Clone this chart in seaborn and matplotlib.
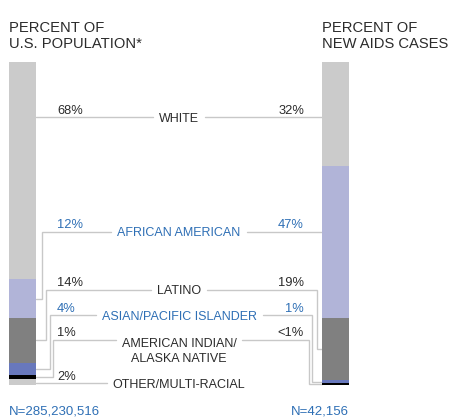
import matplotlib
matplotlib.use("Agg")
import matplotlib.pyplot as plt
import numpy as np
import pandas as pd
import seaborn as sns

# data
groups = [
    "WHITE",
    "AFRICAN AMERICAN",
    "LATINO",
    "ASIAN/PACIFIC ISLANDER",
    "AMERICAN INDIAN/\nALASKA NATIVE",
    "OTHER/MULTI-RACIAL",
]
pop_pct = [68, 12, 14, 4, 1, 2]
aids_pct = [32, 47, 19, 1, 0.5, 0]
pop_labels = ["68%", "12%", "14%", "4%", "1%", "2%"]
aids_labels = ["32%", "47%", "19%", "1%", "<1%", None]
bar_titles = ["PERCENT OF\nU.S. POPULATION*", "PERCENT OF\nNEW AIDS CASES"]
totals = ["N=285,230,516", "N=42,156"]

bar_colors = ["#cbcbcb", "#b1b4d8", "#808080", "#6878bc", "#000000", "#cbcbcb"]
label_colors = ["#2b2b2b", "#2e6fb5", "#2b2b2b", "#2e6fb5", "#2b2b2b", "#2b2b2b"]
line_color = "#c8c8c8"

sns.set_style("white")
plt.rcParams["font.family"] = ["Liberation Sans", "DejaVu Sans"]

# build stacked table (each bar normalised to its own total)
rows = []
for key, vals in (("pop", pop_pct), ("aids", aids_pct)):
    share = np.array(vals, dtype=float) / sum(vals) * 100
    cum = np.cumsum(share)
    for g, s, c in zip(groups, share, cum):
        rows.append({"bar": key, "group": g, "share": s, "end": c, "start": c - s})
df = pd.DataFrame(rows)

# pixel layout helpers (figure is 451x418 px, axes fill it)
PX_PER_X = 312.5
def xd(px):
    return (px - 22.5) / PX_PER_X

def yd(py):
    return (py - 62) / 3.23

BAR_W = 27 / PX_PER_X

fig = plt.figure(figsize=(4.51, 4.18), dpi=100)
ax = fig.add_axes([0, 0, 1, 1])

# overlay cumulative bars, longest first, to get the stack
for g, col in reversed(list(zip(groups, bar_colors))):
    sub = df[df["group"] == g]
    sns.barplot(data=sub, x="bar", y="end", order=["pop", "aids"], color=col,
                saturation=1, width=BAR_W, linewidth=0, errorbar=None, ax=ax)

ax.set_xlim(xd(0), xd(451))
ax.set_ylim(yd(418), yd(0))
ax.axis("off")

TITLE_FS = 10.6
LABEL_FS = 9.0
LINE_PX = 17.5

# titles and totals (va=baseline anchors the last line)
ax.text(xd(9), yd(48), bar_titles[0], fontsize=TITLE_FS, color="#2b2b2b",
        ha="left", va="baseline", linespacing=1.15)
ax.text(xd(322), yd(48), bar_titles[1], fontsize=TITLE_FS, color="#2b2b2b",
        ha="left", va="baseline", linespacing=1.15)
ax.text(xd(9), yd(415), totals[0], fontsize=LABEL_FS + 0.5, color="#2e6fb5",
        ha="left", va="baseline")
ax.text(xd(349), yd(415), totals[1], fontsize=LABEL_FS + 0.5, color="#2e6fb5",
        ha="right", va="baseline")

label_py = [117, 232, 290, 315, 340, 383]
left_elbow = [0, 5.5, 9.5, 14, 17, 0]
right_elbow = [0, 0, 5, 9.5, 13, 0]

label_texts = []
for i, g in enumerate(groups):
    n_lines = g.count("\n")
    t = ax.text(xd(179), yd(label_py[i] + 4.5 + n_lines * LINE_PX), g,
                fontsize=LABEL_FS, color=label_colors[i], ha="center",
                va="baseline", linespacing=1.35)
    label_texts.append(t)
    ax.text(xd(57), yd(label_py[i] - 3.5), pop_labels[i], fontsize=LABEL_FS + 0.3,
            color=label_colors[i], ha="left", va="baseline")
    if aids_labels[i]:
        ax.text(xd(304), yd(label_py[i] - 3.5), aids_labels[i],
                fontsize=LABEL_FS + 0.3, color=label_colors[i], ha="right",
                va="baseline")

fig.canvas.draw()
renderer = fig.canvas.get_renderer()
inv = ax.transData.inverted()
gap = 6 / PX_PER_X

for i, g in enumerate(groups):
    bb = label_texts[i].get_window_extent(renderer).transformed(inv)
    lx0, lx1 = min(bb.x0, bb.x1), max(bb.x0, bb.x1)
    ly = yd(label_py[i])
    for key, edge, sign, elbow in (("pop", BAR_W / 2, 1, left_elbow[i]),
                                   ("aids", 1 - BAR_W / 2, -1, right_elbow[i])):
        seg = df[(df["bar"] == key) & (df["group"] == g)].iloc[0]
        if seg["share"] <= 0:
            continue
        end_x = lx0 - gap if sign > 0 else lx1 + gap
        if seg["start"] <= ly <= seg["end"]:
            xs, ys = [edge, end_x], [ly, ly]
        else:
            mid = (seg["start"] + seg["end"]) / 2
            vx = edge + sign * elbow / PX_PER_X
            xs, ys = [edge, vx, vx, end_x], [mid, mid, ly, ly]
        ax.plot(xs, ys, color=line_color, lw=1, solid_joinstyle="miter", zorder=0)

fig.savefig("out.png", dpi=100)
